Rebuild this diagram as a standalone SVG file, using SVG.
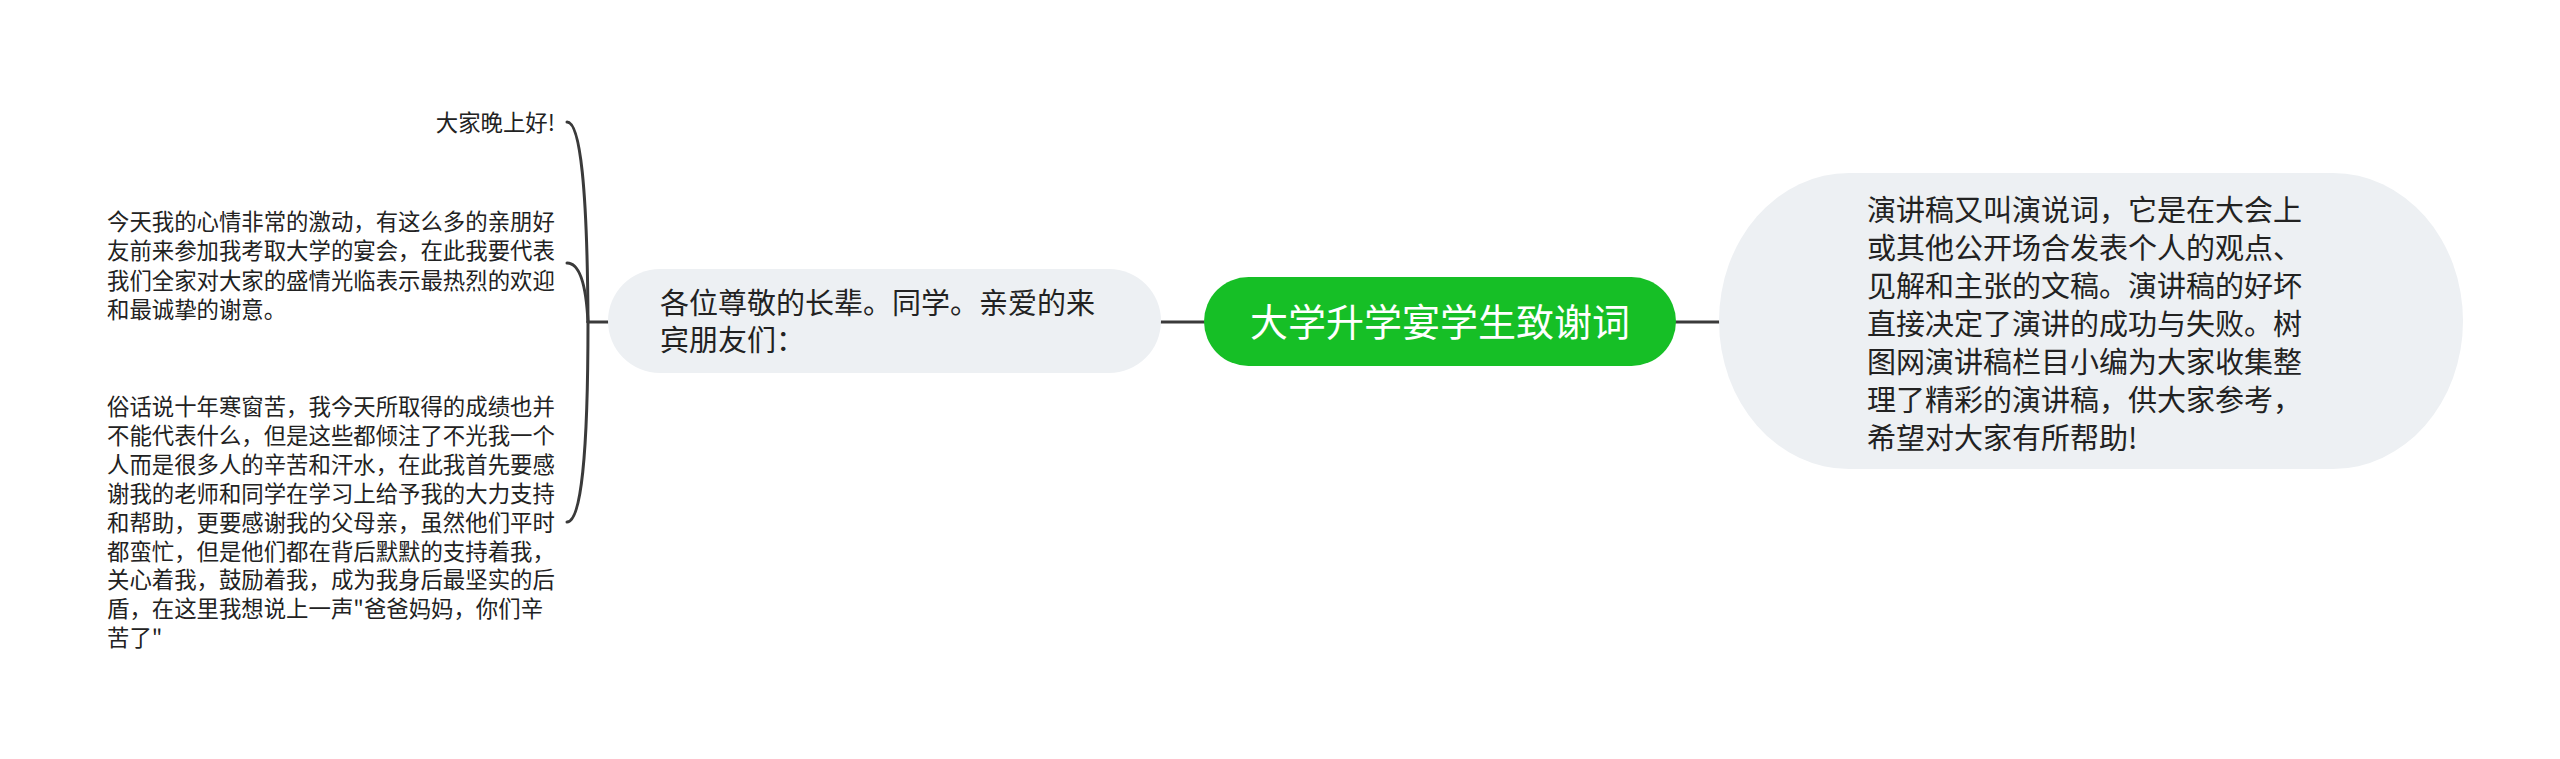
<svg xmlns="http://www.w3.org/2000/svg" width="2560" height="759" viewBox="0 0 2560 759">
<style>
.t{font-family:"Noto Sans CJK SC","Noto Sans",sans-serif;fill:#222}
.leaf{font-size:22.4px}
.mid{font-size:29px}
.root{font-size:38px;fill:#fff}
.c{fill:none;stroke:#3a3a3a;stroke-width:3;stroke-linecap:round}
.soft{fill:#edf0f3}
</style>
<rect width="2560" height="759" fill="#fff"/>
<g id="connectors">
<path class="c" d="M1161 322 L1204 322"/>
<path class="c" d="M1676 322 L1720 322"/>
<path class="c" d="M608 322 L588 322"/>
<path class="c" d="M588 322 Q587 122 567 122"/>
<path class="c" d="M588 322 Q585 263 567 263"/>
<path class="c" d="M588 322 Q588 522 567 522"/>
</g>
<g id="root">
<rect x="1204" y="277" width="472" height="89" rx="44.5" fill="#16bf26"/>
<text class="t root" x="1440" y="336" text-anchor="middle">大学升学宴学生致谢词</text>
</g>
<g id="node-right">
<rect class="soft" x="1719" y="173" width="744" height="296" rx="130" ry="148"/>
<text class="t mid" x="1867" y="220.5">演讲稿又叫演说词，它是在大会上</text>
<text class="t mid" x="1867" y="258.5">或其他公开场合发表个人的观点、</text>
<text class="t mid" x="1867" y="296.5">见解和主张的文稿。演讲稿的好坏</text>
<text class="t mid" x="1867" y="334.5">直接决定了演讲的成功与失败。树</text>
<text class="t mid" x="1867" y="372.5">图网演讲稿栏目小编为大家收集整</text>
<text class="t mid" x="1867" y="410.5">理了精彩的演讲稿，供大家参考，</text>
<text class="t mid" x="1867" y="448.5">希望对大家有所帮助!</text>
</g>
<g id="node-left">
<rect class="soft" x="608" y="269" width="553" height="104" rx="52"/>
<text class="t mid" x="660" y="313.5">各位尊敬的长辈。同学。亲爱的来</text>
<text class="t mid" x="660" y="350.5">宾朋友们：</text>
</g>
<g id="leaf-1">
<text class="t leaf" x="555" y="131" text-anchor="end">大家晚上好!</text>
</g>
<g id="leaf-2">
<text class="t leaf" x="107" y="230">今天我的心情非常的激动，有这么多的亲朋好</text>
<text class="t leaf" x="107" y="259.3">友前来参加我考取大学的宴会，在此我要代表</text>
<text class="t leaf" x="107" y="288.6">我们全家对大家的盛情光临表示最热烈的欢迎</text>
<text class="t leaf" x="107" y="318">和最诚挚的谢意。</text>
</g>
<g id="leaf-3">
<text class="t leaf" x="107" y="415">俗话说十年寒窗苦，我今天所取得的成绩也并</text>
<text class="t leaf" x="107" y="443.9">不能代表什么，但是这些都倾注了不光我一个</text>
<text class="t leaf" x="107" y="472.8">人而是很多人的辛苦和汗水，在此我首先要感</text>
<text class="t leaf" x="107" y="501.7">谢我的老师和同学在学习上给予我的大力支持</text>
<text class="t leaf" x="107" y="530.6">和帮助，更要感谢我的父母亲，虽然他们平时</text>
<text class="t leaf" x="107" y="559.5">都蛮忙，但是他们都在背后默默的支持着我，</text>
<text class="t leaf" x="107" y="588.4">关心着我，鼓励着我，成为我身后最坚实的后</text>
<text class="t leaf" x="107" y="617.3">盾，在这里我想说上一声"爸爸妈妈，你们辛</text>
<text class="t leaf" x="107" y="646.2">苦了"</text>
</g>
</svg>
